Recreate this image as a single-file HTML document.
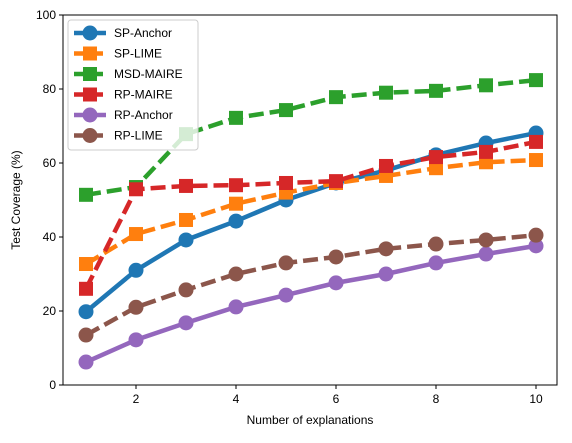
<!DOCTYPE html>
<html><head><meta charset="utf-8"><style>
body{margin:0;background:#fff;font-family:"Liberation Sans",Arial,sans-serif}
svg text{font-family:"Liberation Sans",Arial,sans-serif;font-size:12px;fill:#000}
</style></head><body>
<svg id="chart" width="572" height="438">
<rect x="0" y="0" width="572" height="438" fill="#fff"/>
<g id="plot"></g>
<g id="axes"></g>
<g id="legend"></g>
</svg>
<script>
const categories=[1,2,3,4,5,6,7,8,9,10];
const spAnchor=[19.8,31,39.2,44.3,50,54.6,58,62.2,65.4,68.1];
const spLime=[32.7,40.8,44.6,49,52,54.6,56.5,58.6,60.2,60.8];
const msdMaire=[51.4,53.5,67.8,72.2,74.3,77.8,79,79.5,81,82.4];
const rpMaire=[26,52.9,53.8,54,54.6,55.1,59.2,61.6,63,65.7];
const rpAnchor=[6.2,12.2,16.8,21.1,24.3,27.6,30,33,35.4,37.6];
const rpLime=[13.5,21,25.7,30,33,34.6,36.8,38.1,39.2,40.5];
const xTicks=[2,4,6,8,10];
const yTicks=[0,20,40,60,80,100];
const L=63,R=557,T=15,B=385;
const xs=v=>86+(v-1)*50;
const ys=v=>B-(v/100)*(B-T);
const NS="http://www.w3.org/2000/svg";
function mk(tag,attrs,parent){const e=document.createElementNS(NS,tag);for(const k in attrs)e.setAttribute(k,attrs[k]);parent.appendChild(e);return e;}
const series=[
 {name:"SP-Anchor",vals:spAnchor,color:"#1f77b4",dash:null,marker:"circle"},
 {name:"SP-LIME",vals:spLime,color:"#ff7f0e",dash:"15,6",marker:"square"},
 {name:"MSD-MAIRE",vals:msdMaire,color:"#2ca02c",dash:"15,6",marker:"square"},
 {name:"RP-MAIRE",vals:rpMaire,color:"#d62728",dash:"15,6",marker:"square"},
 {name:"RP-Anchor",vals:rpAnchor,color:"#9467bd",dash:null,marker:"circle"},
 {name:"RP-LIME",vals:rpLime,color:"#8c564b",dash:"15,6",marker:"circle"}
];
const plot=document.getElementById('plot');
function marker(g,type,x,y,c){
 let m;
 if(type==="circle")m=mk('circle',{cx:x,cy:y,r:7.5,fill:c},g);
 else m=mk('rect',{x:x-7,y:y-7,width:14,height:14,fill:c},g);
 return m;
}
series.forEach(s=>{
 const g=mk('g',{},plot);
 
 
 const pts=s.vals.map((v,i)=>xs(categories[i])+","+ys(v)).join(" ");
 const pl=mk('polyline',{points:pts,fill:"none",stroke:s.color,"stroke-width":4.5},g);
 if(s.dash)pl.setAttribute('stroke-dasharray',s.dash);
 
 
 s.vals.forEach((v,i)=>{const m=marker(g,s.marker,xs(categories[i]),ys(v),s.color);
  
  });
});
const axes=document.getElementById('axes');
const frame=mk('rect',{x:L,y:T,width:R-L,height:B-T,fill:"none",stroke:"#000","stroke-width":1},axes);


xTicks.forEach(t=>{mk('line',{x1:xs(t),x2:xs(t),y1:B,y2:B+4,stroke:"#000"},axes);
 const tx=mk('text',{x:xs(t),y:B+18,"text-anchor":"middle"},axes);tx.textContent=t;
 
 });
yTicks.forEach(t=>{mk('line',{x1:L-4,x2:L,y1:ys(t),y2:ys(t),stroke:"#000"},axes);
 const tx=mk('text',{x:L-7,y:ys(t)+4,"text-anchor":"end"},axes);tx.textContent=t;
 
 });
const xl=mk('text',{x:310,y:424,"text-anchor":"middle"},axes);xl.textContent="Number of explanations";


const yl=mk('text',{x:20,y:200,"text-anchor":"middle",transform:"rotate(-90 20 200)"},axes);yl.textContent="Test Coverage (%)";


const lg=document.getElementById('legend');


mk('rect',{x:68,y:20,width:130,height:130,rx:3,fill:"#fff","fill-opacity":0.8,stroke:"#ccc"},lg);
series.forEach((s,i)=>{
 const y=33+i*20.5;
 const g=mk('g',{},lg);
 
 
 const l=mk('line',{x1:74,x2:106,y1:y,y2:y,stroke:s.color,"stroke-width":4.5},g);
 if(s.dash)l.setAttribute('stroke-dasharray','12,5');
 marker(g,s.marker,90,y,s.color);
 const t=mk('text',{x:114,y:y+4},g);t.textContent=s.name;
});
</script>
</body></html>
